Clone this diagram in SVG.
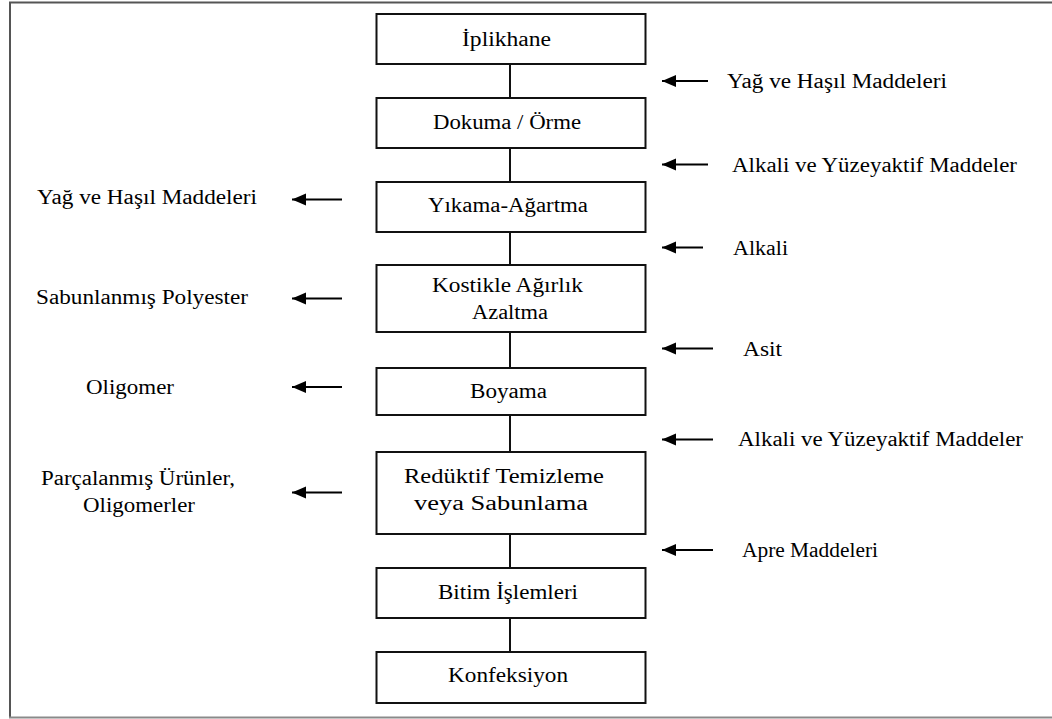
<svg xmlns="http://www.w3.org/2000/svg" width="1052" height="719" viewBox="0 0 1052 719">
<style>
.box{fill:#fff;stroke:#111;stroke-width:2}
.lbl{font-family:"Liberation Serif","Times New Roman",serif;font-size:20px;fill:#000}
.conn{stroke:#111;stroke-width:2;fill:none}
.arr{stroke:#000;stroke-width:1.8;fill:none}
</style>
<defs>
<marker id="ah" markerUnits="userSpaceOnUse" markerWidth="16" markerHeight="14" refX="14" refY="6" orient="auto">
<path d="M0,0 L14,6 L0,12 Z" fill="#000"/>
</marker>
</defs>
<rect width="1052" height="719" fill="#fff"/>
<g id="frame">
<line x1="9" y1="2.5" x2="1052" y2="2.5" stroke="#555" stroke-width="2"/>
<line x1="10" y1="2" x2="10" y2="718" stroke="#555" stroke-width="2"/>
<line x1="9" y1="717.5" x2="1052" y2="717.5" stroke="#8a8a8a" stroke-width="2"/>
</g>
<g id="connectors">
<line class="conn" x1="510" y1="64" x2="510" y2="98"/>
<line class="conn" x1="510" y1="148" x2="510" y2="182"/>
<line class="conn" x1="510" y1="232" x2="510" y2="265"/>
<line class="conn" x1="510" y1="332" x2="510" y2="368"/>
<line class="conn" x1="510" y1="415" x2="510" y2="452"/>
<line class="conn" x1="510" y1="534" x2="510" y2="568"/>
<line class="conn" x1="510" y1="618" x2="510" y2="652"/>
<line class="arr" x1="708" y1="81" x2="662" y2="81" marker-end="url(#ah)"/>
<line class="arr" x1="708" y1="164.5" x2="662" y2="164.5" marker-end="url(#ah)"/>
<line class="arr" x1="703" y1="247.5" x2="662" y2="247.5" marker-end="url(#ah)"/>
<line class="arr" x1="713" y1="348.5" x2="662" y2="348.5" marker-end="url(#ah)"/>
<line class="arr" x1="713" y1="439.5" x2="662" y2="439.5" marker-end="url(#ah)"/>
<line class="arr" x1="713" y1="550" x2="662" y2="550" marker-end="url(#ah)"/>
<line class="arr" x1="342" y1="199.5" x2="292" y2="199.5" marker-end="url(#ah)"/>
<line class="arr" x1="342" y1="298.5" x2="292" y2="298.5" marker-end="url(#ah)"/>
<line class="arr" x1="342" y1="387" x2="292" y2="387" marker-end="url(#ah)"/>
<line class="arr" x1="342" y1="492.5" x2="292" y2="492.5" marker-end="url(#ah)"/>
</g>
<g id="n1"><rect class="box" x="376.5" y="14" width="269" height="50"/><text class="lbl" x="462" y="46" textLength="89" lengthAdjust="spacingAndGlyphs">İplikhane</text></g>
<g id="n2"><rect class="box" x="376.5" y="98" width="269" height="50"/><text class="lbl" x="433" y="128.5" textLength="148" lengthAdjust="spacingAndGlyphs">Dokuma / Örme</text></g>
<g id="n3"><rect class="box" x="376.5" y="182" width="269" height="50"/><text class="lbl" x="428" y="212" textLength="160" lengthAdjust="spacingAndGlyphs">Yıkama-Ağartma</text></g>
<g id="n4"><rect class="box" x="376.5" y="265" width="269" height="67"/><text class="lbl" x="432" y="292" textLength="151" lengthAdjust="spacingAndGlyphs">Kostikle Ağırlık</text><text class="lbl" x="472" y="319" textLength="76" lengthAdjust="spacingAndGlyphs">Azaltma</text></g>
<g id="n5"><rect class="box" x="376.5" y="368" width="269" height="47"/><text class="lbl" x="470" y="398" textLength="77" lengthAdjust="spacingAndGlyphs">Boyama</text></g>
<g id="n6"><rect class="box" x="376.5" y="452" width="269" height="82"/><text class="lbl" x="404" y="483" textLength="200" lengthAdjust="spacingAndGlyphs">Redüktif Temizleme</text><text class="lbl" x="414" y="510" textLength="174" lengthAdjust="spacingAndGlyphs">veya Sabunlama</text></g>
<g id="n7"><rect class="box" x="376.5" y="568" width="269" height="50"/><text class="lbl" x="438" y="598.5" textLength="140" lengthAdjust="spacingAndGlyphs">Bitim İşlemleri</text></g>
<g id="n8"><rect class="box" x="376.5" y="652" width="269" height="51"/><text class="lbl" x="448" y="682" textLength="120" lengthAdjust="spacingAndGlyphs">Konfeksiyon</text></g>
<g id="r1"><text class="lbl" x="727" y="88" textLength="220" lengthAdjust="spacingAndGlyphs">Yağ ve Haşıl Maddeleri</text></g>
<g id="r2"><text class="lbl" x="732" y="171.5" textLength="285" lengthAdjust="spacingAndGlyphs">Alkali ve Yüzeyaktif Maddeler</text></g>
<g id="r3"><text class="lbl" x="733" y="254.5" textLength="55" lengthAdjust="spacingAndGlyphs">Alkali</text></g>
<g id="r4"><text class="lbl" x="743" y="356" textLength="39" lengthAdjust="spacingAndGlyphs">Asit</text></g>
<g id="r5"><text class="lbl" x="738" y="446" textLength="285" lengthAdjust="spacingAndGlyphs">Alkali ve Yüzeyaktif Maddeler</text></g>
<g id="r6"><text class="lbl" x="742" y="557" textLength="136" lengthAdjust="spacingAndGlyphs">Apre Maddeleri</text></g>
<g id="l1"><text class="lbl" x="37" y="204" textLength="220" lengthAdjust="spacingAndGlyphs">Yağ ve Haşıl Maddeleri</text></g>
<g id="l2"><text class="lbl" x="36" y="304" textLength="212" lengthAdjust="spacingAndGlyphs">Sabunlanmış Polyester</text></g>
<g id="l3"><text class="lbl" x="86" y="394" textLength="88" lengthAdjust="spacingAndGlyphs">Oligomer</text></g>
<g id="l4"><text class="lbl" x="41" y="485" textLength="194" lengthAdjust="spacingAndGlyphs">Parçalanmış Ürünler,</text><text class="lbl" x="83" y="512" textLength="112" lengthAdjust="spacingAndGlyphs">Oligomerler</text></g>
</svg>
